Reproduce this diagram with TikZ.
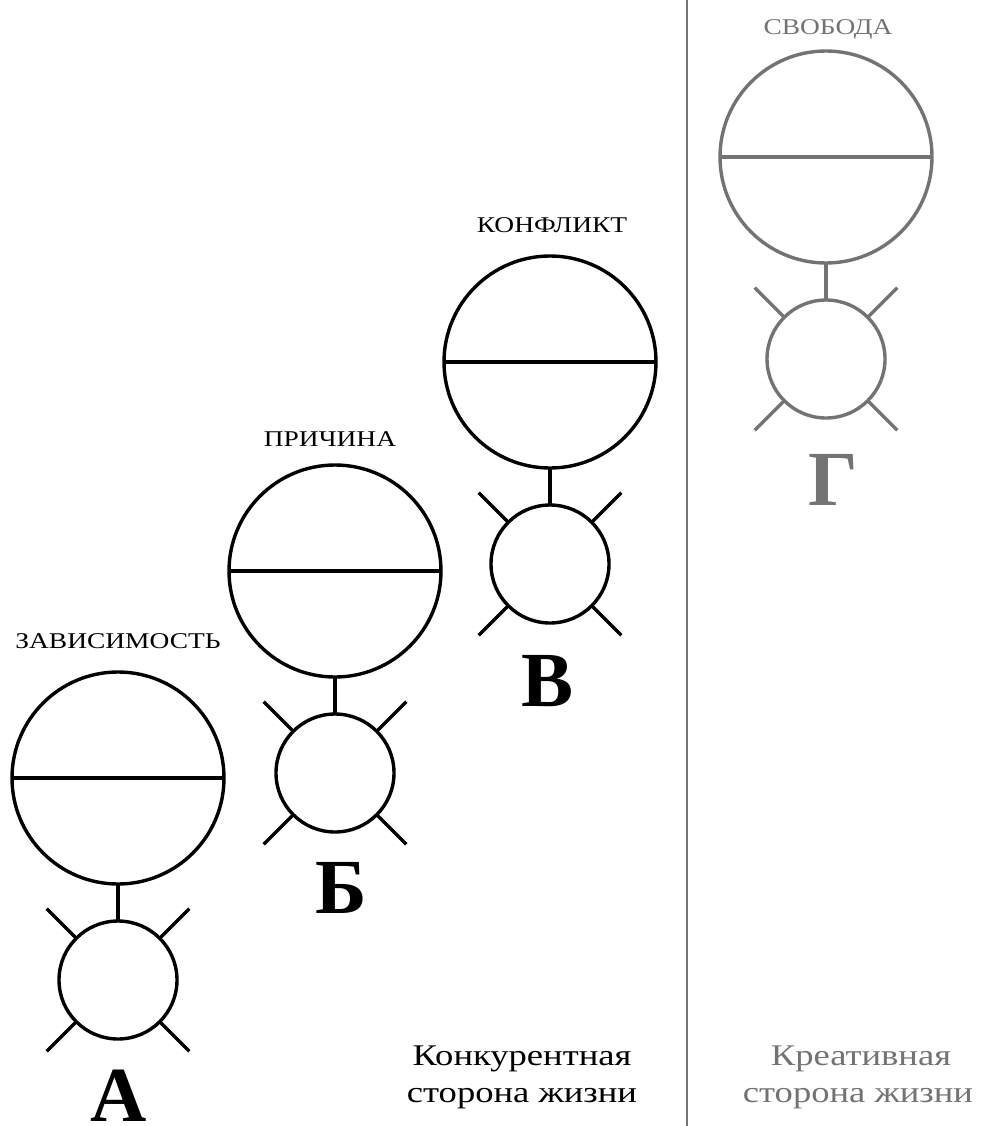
\documentclass[tikz,border=0pt]{standalone}
\usepackage{fontspec}
\setmainfont{Liberation Serif}
\newfontfamily\widefont[FakeStretch=1.22]{Liberation Serif}
\usetikzlibrary{calc}
\definecolor{softgray}{gray}{0.45}
\tikzset{
  ln/.style={line width=3.4pt},
  bigc/.style={circle, draw, line width=3.4pt, minimum size=212pt, inner sep=0pt, outer sep=0pt},
  smallc/.style={circle, draw, line width=3.4pt, minimum size=118pt, inner sep=0pt, outer sep=0pt},
  titletext/.style={font=\widefont\fontsize{22.5}{26}\selectfont, anchor=base, inner sep=0pt},
  bigletter/.style={font=\fontsize{78}{80}\selectfont\bfseries, anchor=base, inner sep=0pt},
  sidetext/.style={font=\widefont\fontsize{30}{37}\selectfont, anchor=base, inner sep=0pt},
}
\newcommand\figgroup[4]{%
  \node[bigc, draw=#4] (big#1) at (#2,#3) {};
  \draw[ln, #4] (big#1.west) -- (big#1.east);
  \node[smallc, draw=#4] (small#1) at (#2,#3+202) {};
  \draw[ln, #4] (big#1.south) -- (small#1.north);
  \foreach \a in {45,135,225,315} {
    \coordinate (sp#1\a) at ($(small#1.center)!1.71!(small#1.\a)$);
    \draw[ln, #4] (small#1.\a) -- (sp#1\a);
  }
}
\begin{document}
\begin{tikzpicture}[x=1pt, y=-1pt]
\useasboundingbox (0,0) rectangle (985,1126);

% divider
\coordinate (dtop) at (687,0);
\coordinate (dbot) at (687,1126);
\draw[softgray, line width=2.5pt] (dtop) -- (dbot);

% groups
\figgroup{A}{118}{778}{black}
\figgroup{B}{335}{571}{black}
\figgroup{V}{550}{362}{black}
\figgroup{G}{826}{157}{softgray}

% titles
\node[titletext] (tA) at (118,648) {ЗАВИСИМОСТЬ};
\node[titletext] (tB) at (330,446) {ПРИЧИНА};
\node[titletext] (tV) at (552,232) {КОНФЛИКТ};
\node[titletext, softgray] (tG) at (828,35) {СВОБОДА};

% letters
\node[bigletter] (lA) at (119,1121) {А};
\node[bigletter] (lB) at (341,913) {Б};
\node[bigletter] (lV) at (548,706) {В};
\node[bigletter, softgray] (lG) at (833,505) {Г};

% side captions
\node[sidetext] (c1) at (522,1065) {Конкурентная};
\node[sidetext] (c2) at (522,1102) {сторона жизни};
\node[sidetext, softgray] (c3) at (861,1065) {Креативная};
\node[sidetext, softgray] (c4) at (858,1102) {сторона жизни};
\end{tikzpicture}
\end{document}
